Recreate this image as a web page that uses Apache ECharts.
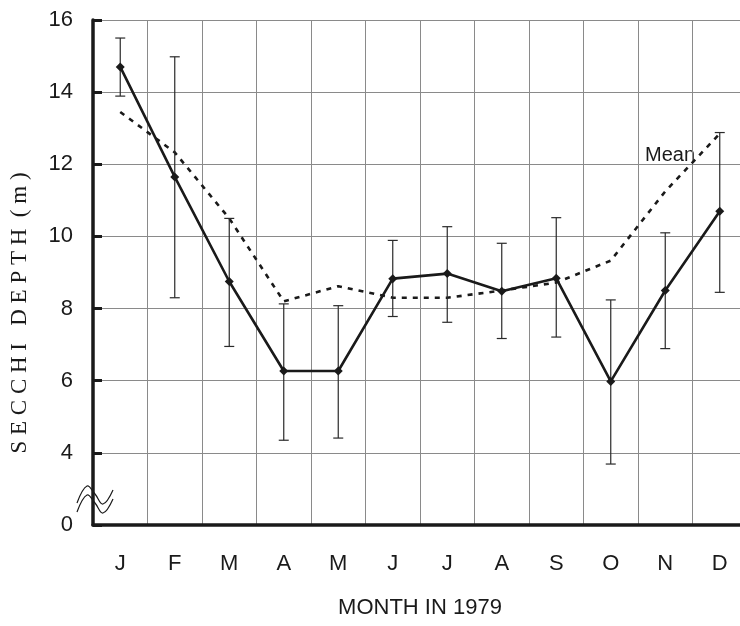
<!DOCTYPE html>
<html>
<head>
<meta charset="utf-8">
<script src="https://cdn.jsdelivr.net/npm/echarts@6/dist/echarts.min.js"></script>
<style>
  html, body { margin: 0; padding: 0; background: #fff; }
  #chart { width: 740px; height: 626px; }
</style>
</head>
<body>
<div id="chart"></div>
<script>
// Monthly Secchi depth, 1979
const months = ['J', 'F', 'M', 'A', 'M', 'J', 'J', 'A', 'S', 'O', 'N', 'D']
const depth = [14.7, 11.65, 8.75, 6.27, 6.27, 8.83, 8.97, 8.48, 8.84, 5.98, 8.5, 10.7]
const errLow = [13.89, 8.3, 6.95, 4.35, 4.41, 7.78, 7.62, 7.17, 7.21, 3.69, 6.89, 8.45]
const errHigh = [15.5, 14.98, 10.5, 8.13, 8.08, 9.89, 10.27, 9.81, 10.52, 8.24, 10.1, 12.88]
const meanDepth = [13.45, 12.33, 10.5, 8.2, 8.62, 8.3, 8.3, 8.5, 8.72, 9.33, 11.25, 12.85]

const chart = echarts.init(document.getElementById('chart'))
const ink = '#1a1a1a'
const font = '"Liberation Sans", Arial, sans-serif'
const narrow = '"Liberation Sans Narrow", "Liberation Sans", Arial, sans-serif'

const errData = months.map((m, i) => [i, errLow[i], errHigh[i]])

chart.setOption({
    animation: false,
    grid: {
        left: 93, top: 20, bottom: 101, right: -7,
        containLabel: false,
        outerBoundsMode: 'none'
    },
    xAxis: {
        type: 'category',
        data: months,
        boundaryGap: true,
        name: 'MONTH IN 1979',
        nameLocation: 'middle',
        nameGap: 72,
        nameTextStyle: { fontFamily: font, fontSize: 22, color: ink },
        axisLine: { lineStyle: { color: ink, width: 3.5 } },
        axisTick: { inside: true, length: 7, lineStyle: { color: ink, width: 3 } },
        axisLabel: { fontFamily: narrow, fontSize: 22, color: ink, margin: 28 },
        splitLine: { show: true, lineStyle: { color: '#8a8a8a', width: 1 } }
    },
    yAxis: {
        type: 'value',
        min: 2,
        max: 16,
        interval: 2,
        axisLine: { show: true, lineStyle: { color: ink, width: 3.5 } },
        axisTick: { show: true, inside: true, length: 9, lineStyle: { color: ink, width: 3 } },
        axisLabel: {
            fontFamily: font, fontSize: 22, color: ink, margin: 20,
            formatter: v => (v === 2 ? '0' : String(v))
        },
        splitLine: { show: true, lineStyle: { color: '#8a8a8a', width: 1 } }
    },
    graphic: [
        {
            type: 'text',
            x: 20, y: 313,
            rotation: Math.PI / 2,
            style: {
                text: 'S E C C H I   D E P T H  ( m )',
                font: '23px "Liberation Serif", "DejaVu Serif", serif',
                fill: ink,
                align: 'center',
                verticalAlign: 'middle'
            }
        },
        {
            type: 'text',
            x: 670, y: 155,
            style: {
                text: 'Mean',
                font: '20px "Liberation Sans", Arial, sans-serif',
                fill: ink,
                align: 'center',
                verticalAlign: 'middle'
            }
        },
        {
            type: 'polyline',
            shape: { points: [[77, 503], [87, 486], [95, 494], [103, 504], [113, 490]], smooth: 0.4 },
            style: { stroke: ink, lineWidth: 1.2, fill: null }
        },
        {
            type: 'polyline',
            shape: { points: [[77, 512], [87, 495], [95, 503], [103, 513], [113, 499]], smooth: 0.4 },
            style: { stroke: ink, lineWidth: 1.2, fill: null }
        }
    ],
    series: [
        {
            name: 'Mean',
            type: 'line',
            data: meanDepth,
            symbol: 'none',
            lineStyle: { color: ink, width: 2.6, type: [5, 6] },
            z: 3
        },
        {
            name: 'Error',
            type: 'custom',
            data: errData,
            renderItem: (params, api) => {
                const lo = api.coord([api.value(0), api.value(1)])
                const hi = api.coord([api.value(0), api.value(2)])
                const x = lo[0]
                const cap = 5
                const style = { stroke: '#2a2a2a', lineWidth: 1.2 }
                return {
                    type: 'group',
                    children: [
                        { type: 'line', shape: { x1: x, y1: lo[1], x2: x, y2: hi[1] }, style },
                        { type: 'line', shape: { x1: x - cap, y1: lo[1], x2: x + cap, y2: lo[1] }, style },
                        { type: 'line', shape: { x1: x - cap, y1: hi[1], x2: x + cap, y2: hi[1] }, style }
                    ]
                }
            },
            z: 4
        },
        {
            name: 'Secchi depth',
            type: 'line',
            data: depth,
            symbol: 'diamond',
            symbolSize: 9,
            itemStyle: { color: ink },
            lineStyle: { color: ink, width: 2.6 },
            z: 5
        }
    ]
})
</script>
</body>
</html>
